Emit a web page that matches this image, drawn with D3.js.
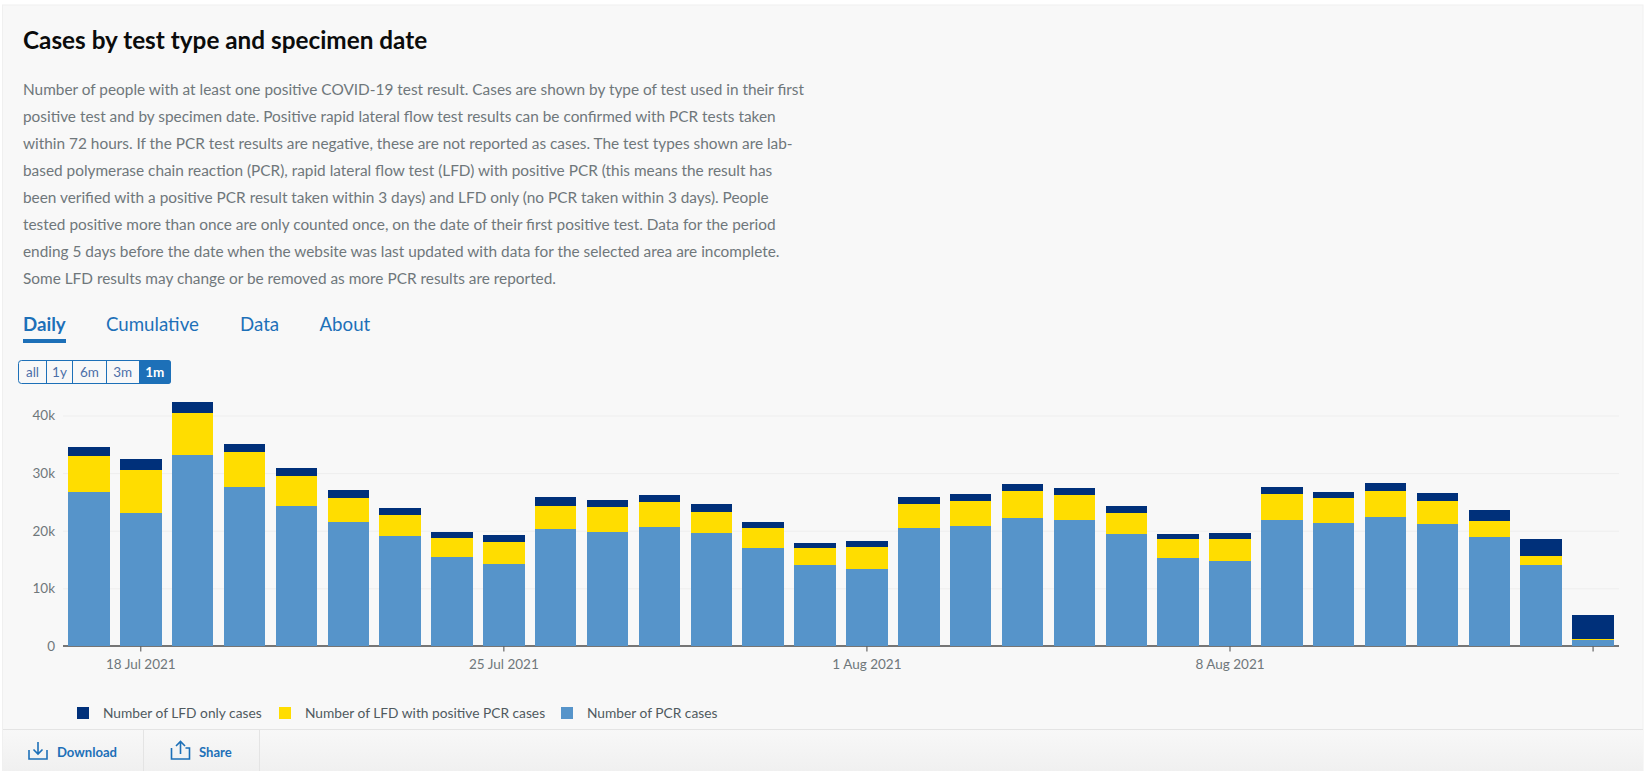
<!DOCTYPE html>
<html>
<head>
<meta charset="utf-8">
<title>Cases by test type and specimen date</title>
<script src="https://cdn.jsdelivr.net/npm/d3@7"></script>
<style>
  html, body { margin: 0; padding: 0; background: #fff; overflow: hidden; }
  svg { display: block; font-family: Lato, "Noto Sans", sans-serif; }
  .axis path { display: none; }
  .axis text { fill: #6f777b; font-size: 13.5px; font-family: Lato, sans-serif; }
</style>
</head>
<body>
<svg id="chart" width="1645" height="771"></svg>
<script>
// values are in thousands of cases
const dates = ['2021-07-17','2021-07-18','2021-07-19','2021-07-20','2021-07-21','2021-07-22','2021-07-23','2021-07-24','2021-07-25','2021-07-26',
  '2021-07-27','2021-07-28','2021-07-29','2021-07-30','2021-07-31','2021-08-01','2021-08-02','2021-08-03','2021-08-04','2021-08-05',
  '2021-08-06','2021-08-07','2021-08-08','2021-08-09','2021-08-10','2021-08-11','2021-08-12','2021-08-13','2021-08-14','2021-08-15'];
const pcrCases = [26.7,23.05,33.1,27.56,24.26,21.49,19.06,15.42,14.21,20.28,
  19.76,20.62,19.58,16.98,14.04,13.34,20.45,20.8,22.18,21.84,
  19.41,15.25,14.73,21.84,21.32,22.36,21.14,18.89,14.04,1.04];
const lfdPositiveCases = [6.23,7.45,7.28,6.06,5.2,4.16,3.64,3.3,3.81,3.98,
  4.33,4.34,3.64,3.47,2.94,3.82,4.16,4.33,4.68,4.33,
  3.64,3.29,3.81,4.5,4.33,4.5,3.99,2.77,1.56,0.2];
const lfdOnlyCases = [1.56,1.91,1.91,1.38,1.39,1.39,1.2,1.04,1.22,1.56,
  1.21,1.21,1.39,1.04,0.87,1.04,1.21,1.21,1.22,1.21,
  1.21,0.87,1.04,1.22,1.04,1.39,1.39,1.91,2.94,4.13];

const seriesNames = ['Number of LFD only cases','Number of LFD with positive PCR cases','Number of PCR cases'];
const seriesColors = ['#00307a','#ffdd00','#5694ca'];
const yTicks = [0,10,20,30,40];
const xTickDates = ['2021-07-18','2021-07-25','2021-08-01','2021-08-08','2021-08-15'];
const tabNames = ['Daily','Cumulative','Data','About'];
const rangeNames = ['all','1y','6m','3m','1m'];

const title = 'Cases by test type and specimen date';
const bodyLines = [
  'Number of people with at least one positive COVID-19 test result. Cases are shown by type of test used in their first',
  'positive test and by specimen date. Positive rapid lateral flow test results can be confirmed with PCR tests taken',
  'within 72 hours. If the PCR test results are negative, these are not reported as cases. The test types shown are lab-',
  'based polymerase chain reaction (PCR), rapid lateral flow test (LFD) with positive PCR (this means the result has',
  'been verified with a positive PCR result taken within 3 days) and LFD only (no PCR taken within 3 days). People',
  'tested positive more than once are only counted once, on the date of their first positive test. Data for the period',
  'ending 5 days before the date when the website was last updated with data for the selected area are incomplete.',
  'Some LFD results may change or be removed as more PCR results are reported.'
];

const BLUE = '#1d70b8';
const svg = d3.select('#chart');

// card + footer
svg.append('rect').attr('x', 2.5).attr('y', 5).attr('width', 1640.5).attr('height', 766)
  .attr('fill', '#f8f8f8').attr('stroke', '#f0f0f0');

const grad = svg.append('defs').append('linearGradient').attr('id', 'foot').attr('x2', 0).attr('y2', 1);
grad.append('stop').attr('offset', 0).attr('stop-color', '#f8f8f8');
grad.append('stop').attr('offset', 1).attr('stop-color', '#f0f0f0');
svg.append('rect').attr('x', 3).attr('y', 729).attr('width', 1640).attr('height', 42).attr('fill', 'url(#foot)');
svg.append('line').attr('x1', 3).attr('x2', 1643).attr('y1', 729.5).attr('y2', 729.5).attr('stroke', '#e4e4e4');
[143.5, 259.5].forEach(x => {
  svg.append('line').attr('x1', x).attr('x2', x).attr('y1', 729).attr('y2', 771).attr('stroke', '#e4e4e4');
});

// heading and description
svg.append('text').attr('x', 23).attr('y', 49)
  .attr('font-size', 24.3).attr('font-weight', 700).attr('fill', '#0b0c0c').text(title);

svg.append('g').selectAll('text').data(bodyLines).join('text')
  .attr('x', 23).attr('y', (d, i) => 95 + i * 27)
  .attr('font-size', 15.38).attr('fill', '#6f777b').text(d => d);

// tabs
const tabX = [23, 106, 240, 319.5];
svg.append('g').selectAll('text').data(tabNames).join('text')
  .attr('x', (d, i) => tabX[i]).attr('y', 331)
  .attr('font-size', 18.7).attr('font-weight', (d, i) => i === 0 ? 700 : 400)
  .attr('fill', BLUE).text(d => d);
svg.append('rect').attr('x', 23).attr('y', 339).attr('width', 43).attr('height', 4).attr('fill', BLUE);

// time range buttons
const rangeEdges = [18.5, 46.5, 72.5, 106.5, 139, 170.5];
const rangeG = svg.append('g');
rangeG.append('rect').attr('x', 18.5).attr('y', 360.5).attr('width', 152).attr('height', 23).attr('rx', 3)
  .attr('fill', 'none').attr('stroke', BLUE);
rangeG.append('path')
  .attr('d', 'M139,360H168a3,3 0 0 1 3,3V381a3,3 0 0 1 -3,3H139Z').attr('fill', BLUE);
rangeNames.forEach((name, i) => {
  if (i > 0 && i < 4) {
    rangeG.append('line').attr('x1', rangeEdges[i]).attr('x2', rangeEdges[i])
      .attr('y1', 360).attr('y2', 384).attr('stroke', BLUE);
  }
  rangeG.append('text').attr('x', (rangeEdges[i] + rangeEdges[i + 1]) / 2).attr('y', 376.5)
    .attr('text-anchor', 'middle').attr('font-size', 13.5)
    .attr('font-weight', i === 4 ? 700 : 400)
    .attr('fill', i === 4 ? '#fff' : '#4c6fa8').text(name);
});

// chart
const parseDate = d3.utcParse('%Y-%m-%d');
const formatDate = d3.utcFormat('%-d %b %Y');

const x = d3.scaleBand().domain(dates).range([63, 1619]).paddingInner(0.2).paddingOuter(0.1);
const y = d3.scaleLinear().domain([0, 40]).range([646, 415.5]);

const gridAxis = d3.axisLeft(y).tickValues(yTicks).tickSize(0).tickPadding(8)
  .tickFormat(d => d === 0 ? '0' : d + 'k');
const gridG = svg.append('g').attr('class', 'axis').attr('transform', 'translate(63,0)').call(gridAxis);
gridG.selectAll('.tick').filter(d => d > 0).append('line')
  .attr('x1', 0).attr('x2', 1556).attr('stroke', '#eeeeee').attr('stroke-width', 1);

const rows = dates.map((date, i) => ({ date, pcr: pcrCases[i], lfdPositive: lfdPositiveCases[i], lfdOnly: lfdOnlyCases[i] }));
const keys = ['pcr', 'lfdPositive', 'lfdOnly'];
const stacked = d3.stack().keys(keys)(rows);
const colorOf = { pcr: seriesColors[2], lfdPositive: seriesColors[1], lfdOnly: seriesColors[0] };

// baseline goes under the bars
svg.append('line').attr('x1', 63).attr('x2', 1619).attr('y1', y(0)).attr('y2', y(0))
  .attr('stroke', '#4a4a4a').attr('stroke-width', 1.5);

svg.append('g').selectAll('g').data(stacked).join('g')
  .attr('fill', d => colorOf[d.key])
  .selectAll('rect').data(d => d).join('rect')
  .attr('x', d => x(d.data.date))
  .attr('width', x.bandwidth())
  .attr('y', d => y(d[1]))
  .attr('height', d => y(d[0]) - y(d[1]))
  .attr('shape-rendering', 'crispEdges');

const xAxis = d3.axisBottom(x).tickValues(xTickDates).tickSize(5).tickPadding(8)
  .tickFormat(d => d === '2021-08-15' ? '' : formatDate(parseDate(d)));
const xG = svg.append('g').attr('class', 'axis').attr('transform', 'translate(0,646.5)').call(xAxis);
xG.selectAll('line').attr('stroke', '#4a4a4a');

// legend
const legendX = [77, 279, 561];
const legend = svg.append('g').selectAll('g').data(seriesNames).join('g')
  .attr('transform', (d, i) => `translate(${legendX[i]},707)`);
legend.append('rect').attr('width', 12).attr('height', 12).attr('fill', (d, i) => seriesColors[i]);
legend.append('text').attr('x', 26).attr('y', 11).attr('font-size', 13.75).attr('fill', '#505a5f').text(d => d);

// footer actions
const footer = svg.append('g').attr('fill', BLUE).attr('font-size', 13.1).attr('font-weight', 700);
footer.append('text').attr('x', 57).attr('y', 757).text('Download');
footer.append('text').attr('x', 199).attr('y', 757).text('Share');
svg.append('path')
  .attr('d', 'M29,750v9h18v-9M38,742v12M33.5,749.5L38,754l4.5,-4.5')
  .attr('fill', 'none').attr('stroke', BLUE).attr('stroke-width', 1.6);
svg.append('path')
  .attr('d', 'M171.5,748v11h18v-11h-4M175.500,748h0M180.5,754v-12M176,746l4.500,-4.500l4.500,4.500')
  .attr('fill', 'none').attr('stroke', BLUE).attr('stroke-width', 1.6);
</script>
</body>
</html>
